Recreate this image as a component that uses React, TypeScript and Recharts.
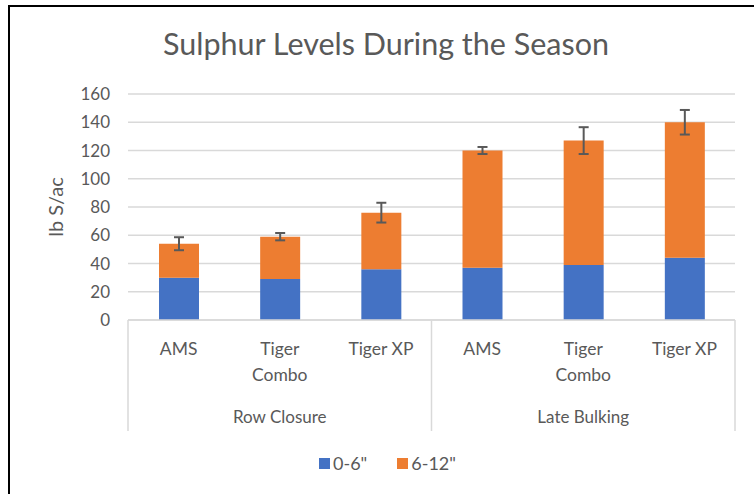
import { BarChart, Bar, XAxis, YAxis, CartesianGrid, Legend, ErrorBar } from "recharts";

const products = ["AMS", "Tiger Combo", "Tiger XP", "AMS", "Tiger Combo", "Tiger XP"];
const groups = ["Row Closure", "Row Closure", "Row Closure", "Late Bulking", "Late Bulking", "Late Bulking"];
const shallow = [30, 29, 36, 37, 39, 44];
const deep = [24, 30, 40, 83, 88, 96];
const errors = [4.6, 2.6, 7, 2.5, 9.5, 8.7];
const yTicks = [0, 20, 40, 60, 80, 100, 120, 140, 160];

const data = products.map((p, i) => ({
  name: p,
  group: groups[i],
  shallow: shallow[i],
  deep: deep[i],
  err: errors[i],
}));

const W = 754;
const H = 494;
const margin = { top: 94, right: 19, left: 0, bottom: 20 };
const yWidth = 128;
const band = (W - margin.left - margin.right - yWidth) / data.length;

const FONT = "Lato, 'Noto Sans', sans-serif";
const TEXT = "#595959";
const AXIS = "#D9D9D9";

function CategoryTick(props: any) {
  const { x, y, payload } = props;
  const i = payload.index;
  const lines = products[i] === "Tiger Combo" ? products[i].split(" ") : [products[i]];
  const boxH = 111;
  const seps: number[] = [];
  if (i === 0 || groups[i] !== groups[i - 1]) seps.push(x - band / 2);
  if (i === data.length - 1) seps.push(x + band / 2);
  const mid = i > 0 && i < data.length - 1 && groups[i - 1] === groups[i] && groups[i + 1] === groups[i];
  return (
    <g>
      {seps.map((sx) => (
        <line key={sx} x1={sx} x2={sx} y1={y} y2={y + boxH} stroke={AXIS} strokeWidth={1.5} />
      ))}
      {lines.map((l, k) => (
        <text key={k} x={x} y={y + 35 + k * 26} textAnchor="middle" fill={TEXT} fontSize={17.5} fontFamily={FONT}>
          {l}
        </text>
      ))}
      {mid && (
        <text x={x} y={y + 103} textAnchor="middle" fill={TEXT} fontSize={17} fontFamily={FONT}>
          {groups[i]}
        </text>
      )}
    </g>
  );
}

function LegendContent() {
  const items = [
    { label: '0-6"', color: "#4472C4" },
    { label: '6-12"', color: "#ED7D31" },
  ];
  return (
    <div
      style={{
        display: "flex",
        justifyContent: "center",
        gap: 30,
        fontFamily: FONT,
        fontSize: 18,
        color: TEXT,
        paddingLeft: 40,
      }}
    >
      {items.map((it) => (
        <div key={it.label} style={{ display: "flex", alignItems: "center", gap: 3 }}>
          <span style={{ width: 11, height: 11, background: it.color, display: "inline-block" }} />
          <span>{it.label}</span>
        </div>
      ))}
    </div>
  );
}

export default function App() {
  return (
    <div style={{ position: "relative", width: W, height: H, background: "#fff" }}>
      <style>{"body{margin:0}"}</style>
      <div
        style={{
          position: "absolute",
          left: 8,
          top: 5,
          width: W - 8,
          height: H - 5,
          borderLeft: "2px solid #000",
          borderTop: "2px solid #000",
          boxSizing: "border-box",
          pointerEvents: "none",
        }}
      />
      <div
        style={{
          position: "absolute",
          top: 25,
          left: 0,
          width: 772,
          textAlign: "center",
          fontFamily: FONT,
          fontSize: 30.5,
          color: TEXT,
        }}
      >
        Sulphur Levels During the Season
      </div>
      <BarChart width={W} height={H} data={data} margin={margin} barSize={40}>
        <CartesianGrid vertical={false} stroke={AXIS} strokeWidth={1.3} />
        <XAxis
          dataKey="name"
          height={132}
          interval={0}
          tickLine={false}
          tickSize={0}
          tickMargin={0}
          axisLine={{ stroke: AXIS, strokeWidth: 1.5 }}
          tick={<CategoryTick />}
        />
        <YAxis
          width={yWidth}
          domain={[0, 160]}
          ticks={yTicks}
          interval={0}
          axisLine={false}
          tickLine={false}
          tickSize={0}
          tickMargin={18}
          tick={{ fill: TEXT, fontSize: 17, fontFamily: FONT }}
          label={(p: any) => (
            <text
              x={55}
              y={p.viewBox.y + p.viewBox.height / 2}
              transform={`rotate(-90, 55, ${p.viewBox.y + p.viewBox.height / 2})`}
              textAnchor="middle"
              dominantBaseline="central"
              fill={TEXT}
              fontSize={20}
              fontFamily={FONT}
            >
              lb S/ac
            </text>
          )}
        />
        <Legend verticalAlign="bottom" height={22} content={<LegendContent />} />
        <Bar dataKey="shallow" name='0-6"' stackId="a" fill="#4472C4" isAnimationActive={false} />
        <Bar dataKey="deep" name='6-12"' stackId="a" fill="#ED7D31" isAnimationActive={false}>
          <ErrorBar dataKey="err" width={5} stroke="#595959" strokeWidth={2} direction="y" />
        </Bar>
      </BarChart>
    </div>
  );
}
